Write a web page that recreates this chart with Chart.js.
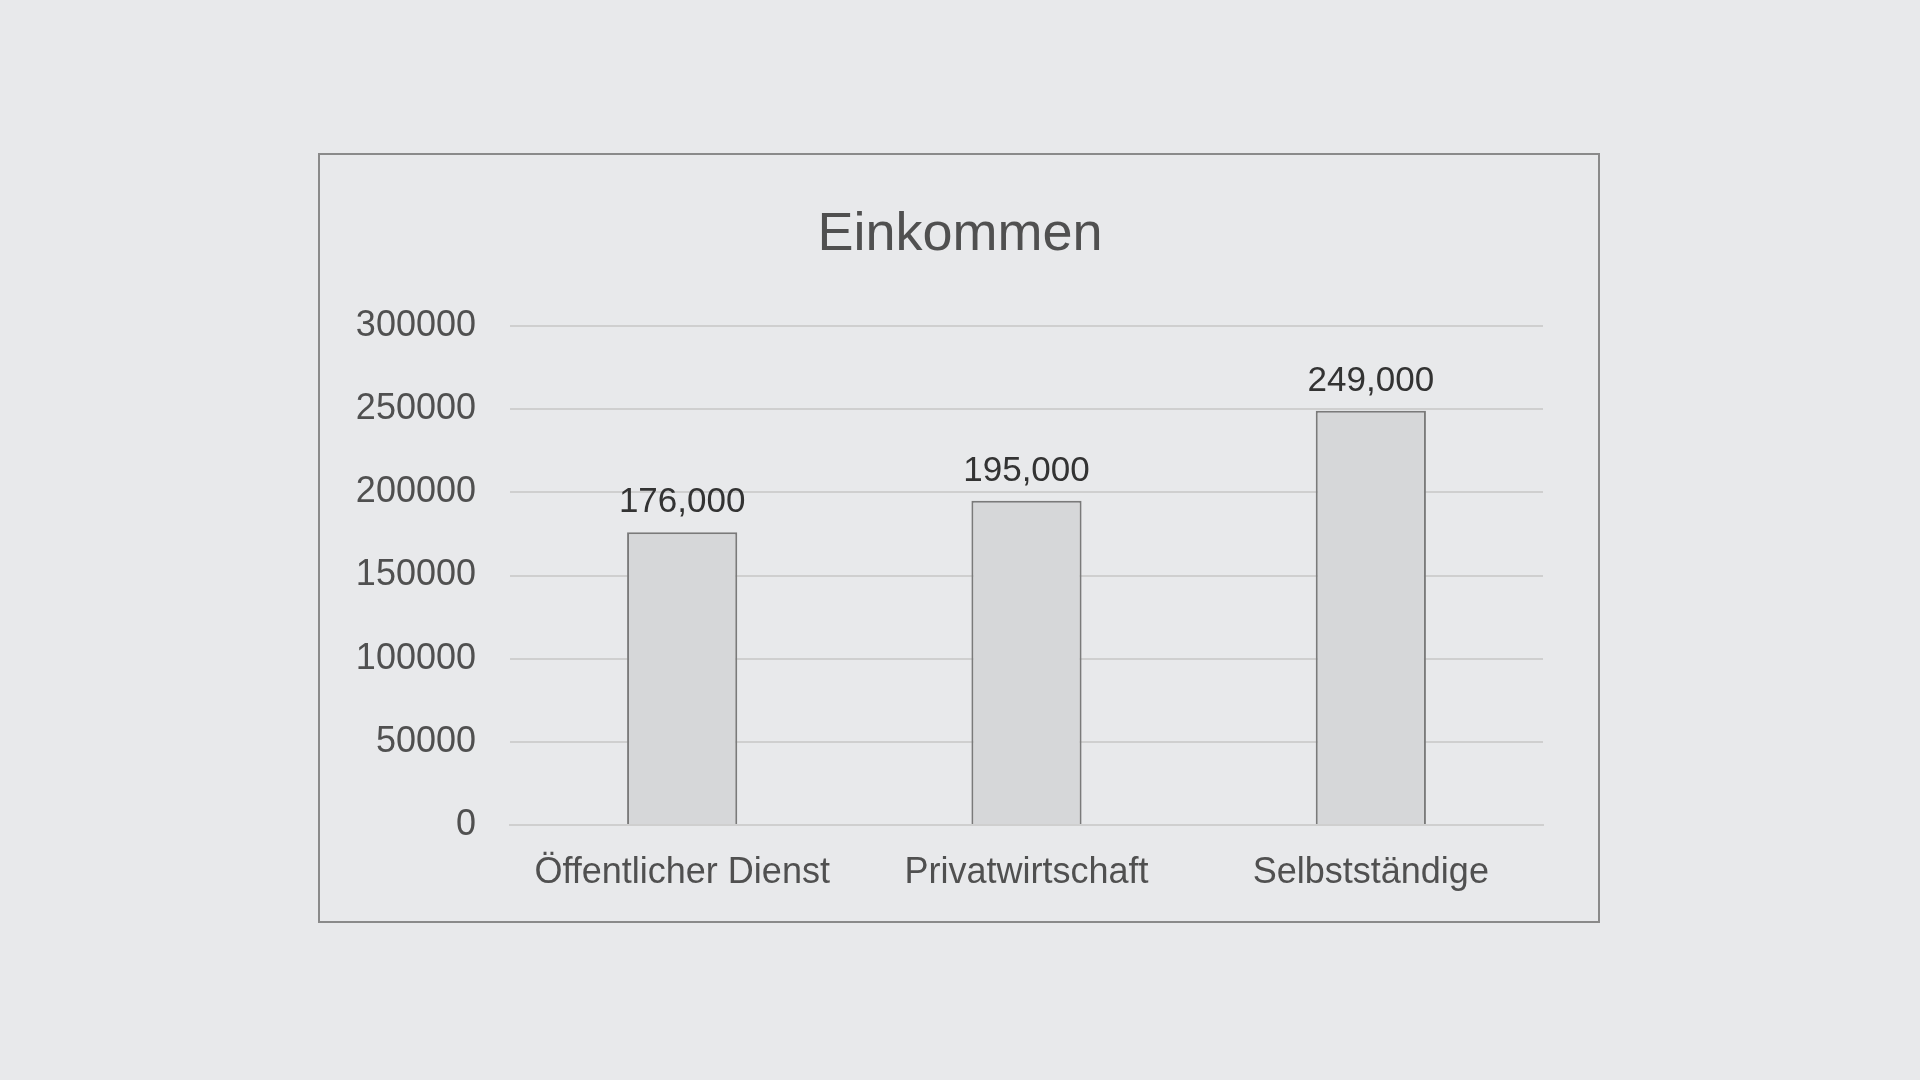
<!DOCTYPE html>
<html><head><meta charset="utf-8">
<script src="https://cdn.jsdelivr.net/npm/chart.js@4"></script>
<style>
html,body{margin:0;width:1920px;height:1080px;background:#e8e9eb;overflow:hidden}
#box{position:absolute;left:318px;top:153px;width:1278px;height:766px;border:2px solid #8a8a8a}
</style></head><body>
<div id="box"><canvas id="c" width="1278" height="766"></canvas></div>
<script>
const categories=["Öffentlicher Dienst","Privatwirtschaft","Selbstständige"];
const values=[176000,195000,249000];
const valueLabels=["176,000","195,000","249,000"];
const yTicks=[0,50000,100000,150000,200000,250000,300000];
const chartTitle="Einkommen";
const labelPlugin={id:'lbl',afterDatasetsDraw(chart){
 const ctx=chart.ctx;const meta=chart.getDatasetMeta(0);
 ctx.save();ctx.font='35px Liberation Sans';ctx.fillStyle='#333';ctx.textAlign='center';ctx.textBaseline='bottom';
 meta.data.forEach((b,i)=>ctx.fillText(valueLabels[i],b.x,b.y-12));
 ctx.font='54px Liberation Sans';ctx.fillStyle='#505050';ctx.textBaseline='middle';
 ctx.fillText(chartTitle,chart.width/2+1,80);
 ctx.restore();}};
new Chart(document.getElementById('c'),{type:'bar',
 data:{labels:categories,datasets:[{data:values,backgroundColor:'#d6d7d9',borderColor:'#7a7a7a',borderWidth:2,barPercentage:0.32,categoryPercentage:1}]},
 options:{responsive:false,animation:false,
  layout:{padding:{left:0,right:55,top:171,bottom:0}},
  plugins:{legend:{display:false},tooltip:{enabled:false},title:{display:false}},
  scales:{
   y:{min:0,max:300000,afterBuildTicks(s){s.ticks=yTicks.map(v=>({value:v}));},
     afterFit(s){s.width=190;},
     grid:{color:'#cfcfcf',lineWidth:2,drawTicks:false},border:{display:false},
     ticks:{color:'#505050',font:{family:'Liberation Sans',size:36},padding:34,callback:v=>String(v)}},
   x:{afterFit(s){s.height=96;},grid:{display:false},border:{color:'#cfcfcf',width:2},
     ticks:{color:'#505050',font:{family:'Liberation Sans',size:36},padding:18,maxRotation:0}}}},
 plugins:[labelPlugin]});
</script></body></html>
